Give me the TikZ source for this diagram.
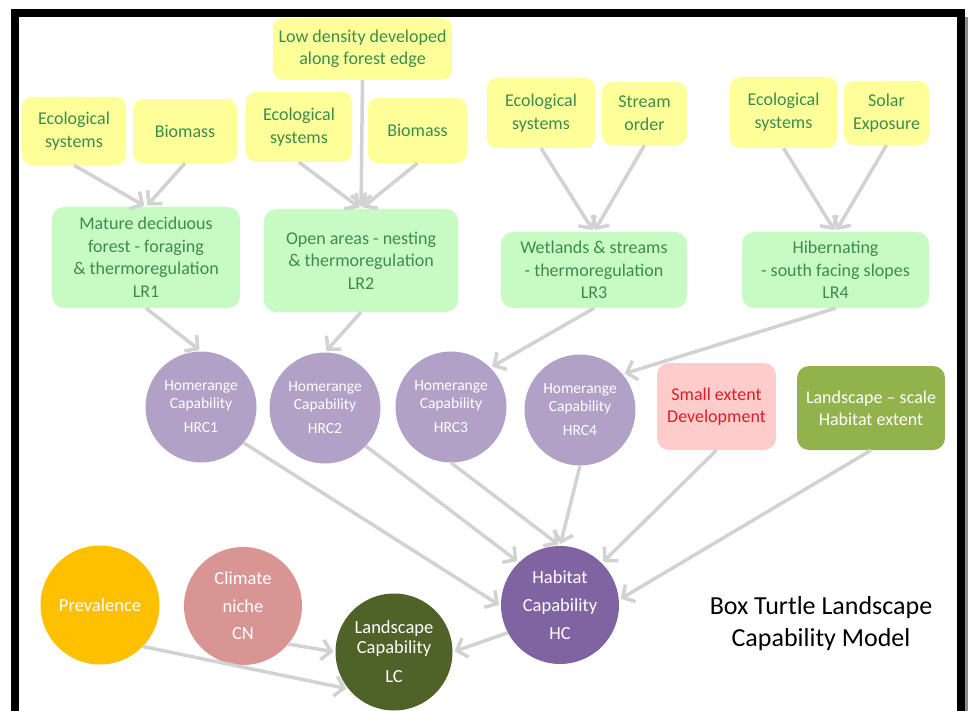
\documentclass[tikz,border=0pt]{standalone}
\usepackage{fontspec}
\setmainfont{Carlito}
\usetikzlibrary{arrows.meta}
\definecolor{ylw}{RGB}{255,255,153}
\definecolor{grn}{RGB}{200,250,195}
\definecolor{txtgrn}{RGB}{60,140,80}
\definecolor{lav}{RGB}{178,161,199}
\definecolor{pnk}{RGB}{255,204,204}
\definecolor{redtxt}{RGB}{220,30,40}
\definecolor{olv}{RGB}{146,178,76}
\definecolor{prp}{RGB}{128,100,162}
\definecolor{dkolv}{RGB}{79,98,40}
\definecolor{gld}{RGB}{255,192,0}
\definecolor{rose}{RGB}{217,149,148}
\definecolor{arr}{RGB}{210,210,210}
\tikzset{
  inbox/.style={fill=ylw, rounded corners=10pt, text=txtgrn, align=center, inner sep=0pt, font=\fontsize{18}{23}\selectfont},
  lrbox/.style={fill=grn, rounded corners=12pt, text=txtgrn, align=center, inner sep=0pt, font=\fontsize{18}{22.5}\selectfont},
  hrc/.style={circle, fill=lav, text=white, align=center, inner sep=0pt, minimum size=111pt, font=\fontsize{15.5}{18}\selectfont},
  bigdot/.style={circle, text=white, align=center, inner sep=0pt, minimum size=118pt, font=\fontsize{18.5}{28}\selectfont},
  link/.style={draw=arr, line width=3.5pt, -{Straight Barb[length=9pt,width=20pt]}, shorten >=2pt}
}
\begin{document}
\begin{tikzpicture}[x=1pt,y=-1pt]
      \useasboundingbox (0,0) rectangle (968,711);
      \node[inbox, minimum width=104pt, minimum height=68pt] (eco1) at (74,131) {Ecological\\systems};
      \node[inbox, minimum width=104pt, minimum height=64pt] (bio1) at (185,131) {Biomass};
      \node[inbox, minimum width=179pt, minimum height=62pt, font=\fontsize{18}{22}\selectfont] (low) at (362.5,49) {Low density developed\\along forest edge};
      \node[inbox, minimum width=106pt, minimum height=70pt] (eco2) at (299,127) {Ecological\\systems};
      \node[inbox, minimum width=99pt, minimum height=65pt] (bio2) at (417.5,130.5) {Biomass};
      \node[inbox, minimum width=108pt, minimum height=70pt] (eco3) at (541,113) {Ecological\\systems};
      \node[inbox, minimum width=85pt, minimum height=63pt] (stream) at (644.5,113.5) {Stream\\order};
      \node[inbox, minimum width=107pt, minimum height=71pt] (eco4) at (783.5,112.5) {Ecological\\systems};
      \node[inbox, minimum width=85pt, minimum height=64pt] (solar) at (886.5,113) {Solar\\Exposure};
      \node[lrbox, minimum width=188pt, minimum height=101pt] (lr1) at (146,257.5) {Mature deciduous\\forest - foraging\\\& thermoregulation\\LR1};
      \node[lrbox, minimum width=194pt, minimum height=103pt] (lr2) at (361,260.5) {Open areas - nesting\\\& thermoregulation\\LR2};
      \node[lrbox, minimum width=186pt, minimum height=76pt] (lr3) at (594,270) {Wetlands \& streams\\- thermoregulation\\LR3};
      \node[lrbox, minimum width=187pt, minimum height=76pt] (lr4) at (835.5,270) {Hibernating\\- south facing slopes\\LR4};
      \node[hrc] (hrc1) at (201,407) {Homerange\\Capability\\[6pt]HRC1};
      \node[hrc] (hrc2) at (325,408) {Homerange\\Capability\\[6pt]HRC2};
      \node[hrc] (hrc3) at (451,407) {Homerange\\Capability\\[6pt]HRC3};
      \node[hrc] (hrc4) at (580,410) {Homerange\\Capability\\[6pt]HRC4};
      \node[fill=pnk, rounded corners=12pt, text=redtxt, align=center, minimum width=119pt, minimum height=87pt, font=\fontsize{18}{22}\selectfont] (small) at (716.5,406.5) {Small extent\\Development};
      \node[fill=olv, rounded corners=12pt, text=white, align=center, minimum width=148pt, minimum height=84pt, font=\fontsize{18}{22}\selectfont] (scale) at (871,408) {Landscape -- scale\\Habitat extent};
      \node[bigdot, fill=prp] (hc) at (560,605) {Habitat\\Capability\\HC};
      \node[bigdot, fill=gld, minimum size=119pt] (prev) at (100,605) {Prevalence};
      \node[bigdot, fill=rose, font=\fontsize{18.5}{27.5}\selectfont] (clim) at (243,606) {Climate\\niche\\CN};
      \node[bigdot, fill=dkolv, minimum size=117pt, font=\fontsize{18.5}{20}\selectfont] (lc) at (394,652) {Landscape\\Capability\\[9pt]LC};
      \node[align=center, font=\fontsize{26}{32}\selectfont] (title) at (821,624) {Box Turtle Landscape\\Capability Model};
      \draw[link] (eco1.south) -- (lr1.north);
      \draw[link] (bio1.south) -- (lr1.north);
      \draw[link] (eco2.south) -- (lr2.north);
      \draw[link] (low.south) -- (lr2.north);
      \draw[link] (bio2.south) -- (lr2.north);
      \draw[link] (eco3.south) -- (lr3.north);
      \draw[link] (stream.south) -- (lr3.north);
      \draw[link] (eco4.south) -- (lr4.north);
      \draw[link] (solar.south) -- (lr4.north);
      \draw[link] (lr1.south) -- (hrc1.north);
      \draw[link] (lr2.south) -- (hrc2.north);
      \draw[link] (lr3.south) -- (hrc3.45);
      \draw[link] (lr4.south) -- (hrc4.40);
      \draw[link] (hrc1.-40) -- (hc.181);
      \draw[link] (hrc2.-43) -- (hc.134);
      \draw[link] (hrc3.south) -- (hc.north);
      \draw[link] (hrc4.south) -- (hc.north);
      \draw[link] (small.south) -- (hc.45);
      \draw[link] (scale.south) -- (hc.5);
      \draw[link] (hc.208) -- (lc.east);
      \draw[link] (clim.-40) -- (lc.west);
      \draw[link] (prev.-44) -- (lc.219);
      \draw[line width=8pt] (15,711) -- (15,13) -- (960.5,13) -- (960.5,711);
      \fill[black!45] (964.5,17) rectangle (968,711);
\end{tikzpicture}
\end{document}
